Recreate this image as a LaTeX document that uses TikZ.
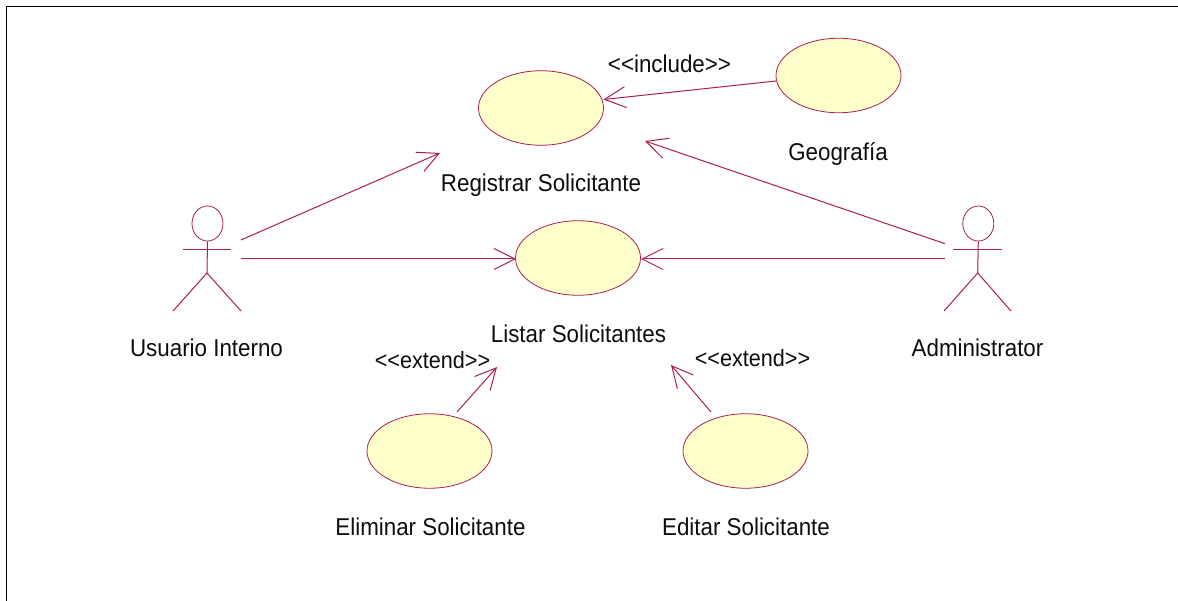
\documentclass[tikz,border=0pt]{standalone}
\usepackage{fontspec}
\setmainfont[FakeStretch=0.92]{Liberation Sans}
\usetikzlibrary{arrows.meta,shapes.geometric}
\definecolor{umlline}{RGB}{170,30,80}
\definecolor{umlfill}{RGB}{255,255,204}
\tikzset{
  usecase/.style={ellipse,draw=umlline,fill=umlfill,line width=0.8pt,minimum width=125pt,minimum height=74.5pt,inner sep=0pt},
  actorhead/.style={ellipse,draw=umlline,line width=0.8pt,minimum width=31pt,minimum height=35pt,inner sep=0pt},
  limb/.style={draw=umlline,line width=1pt},
  assoc/.style={draw=umlline,line width=1pt,-{Straight Barb[length=21pt,width=21pt,line width=1pt]}},
  caption/.style={font=\fontsize{24.3}{25}\selectfont,text=black!95,inner sep=0pt,anchor=base},
  stereo/.style={caption,font=\fontsize{23.5}{25}\selectfont}
}
\begin{document}
\begin{tikzpicture}[x=1pt,y=-1pt]
\useasboundingbox (0,0) rectangle (1178,601);
\draw[black,line width=1pt] (6.5,601) -- (6.5,6.5) -- (1178,6.5);
% use cases
\node[usecase] (reg) at (541,108) {};
\node[usecase] (geo) at (838.5,75.5) {};
\node[usecase] (lst) at (578,258) {};
\node[usecase] (eli) at (429.5,451) {};
\node[usecase] (edi) at (745.5,451) {};
% actors
\node[actorhead] (uh) at (207.5,223.5) {};
\coordinate (ua) at (183,249.7);
\coordinate (ub) at (231,249.7);
\coordinate (uc) at (207,273);
\coordinate (ud) at (173,311);
\coordinate (ue) at (241,311);
\draw[limb] (uh.south) -- (uc);
\draw[limb] (ua) -- (ub);
\draw[limb] (ud) -- (uc) -- (ue);
\node[actorhead] (ah) at (978.3,223.5) {};
\coordinate (aa) at (953,249.7);
\coordinate (ab) at (1002,249.7);
\coordinate (ac) at (977.7,273);
\coordinate (ad) at (944,311);
\coordinate (ae) at (1011,311);
\draw[limb] (ah.south) -- (ac);
\draw[limb] (aa) -- (ab);
\draw[limb] (ad) -- (ac) -- (ae);
% labels
\node[caption] (t1) at (206.5,357) {Usuario Interno};
\node[caption] (t2) at (977.5,357) {Administrator};
\node[caption] (t3) at (541,192) {Registrar Solicitante};
\node[caption] (t4) at (838,161) {Geografía};
\node[caption] (t5) at (578.5,342.5) {Listar Solicitantes};
\node[caption] (t6) at (430.5,535) {Eliminar Solicitante};
\node[caption] (t7) at (746,535) {Editar Solicitante};
\node[caption] (t8) at (669.5,73) {<{}<include>{}>};
\node[stereo] (t9) at (432.5,369) {<{}<extend>{}>};
\node[stereo] (t10) at (752.5,367) {<{}<extend>{}>};
% connector ends
\coordinate (p1) at (241,240);
\coordinate (p2) at (440,153);
\coordinate (p3) at (241,259);
\coordinate (p4) at (945,243.7);
\coordinate (p5) at (645,141);
\coordinate (p6) at (945,259);
\coordinate (p7) at (457,412);
\coordinate (p8) at (497,367);
\coordinate (p9) at (711,412);
\coordinate (p10) at (671,365);
\coordinate (p11) at (776,81);
\coordinate (p12) at (603.5,99.5);
\coordinate (p13) at (516,259);
\coordinate (p14) at (641,259);
\draw[assoc] (p1) -- (p2);
\draw[assoc] (p3) -- (p13);
\draw[assoc] (p4) -- (p5);
\draw[assoc] (p6) -- (p14);
\draw[assoc] (p7) -- (p8);
\draw[assoc] (p9) -- (p10);
\draw[assoc] (p11) -- (p12);
\end{tikzpicture}
\end{document}
